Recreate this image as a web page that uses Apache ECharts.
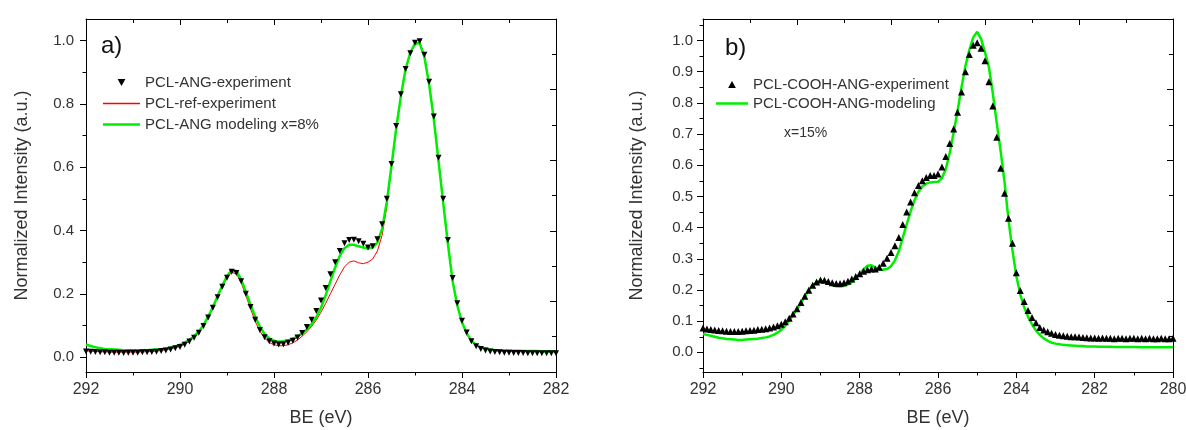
<!DOCTYPE html>
<html>
<head>
<meta charset="utf-8">
<script src="https://cdn.jsdelivr.net/npm/echarts@6/dist/echarts.min.js"></script>
<style>
html,body{margin:0;padding:0;background:#fff;}
#chart{width:1186px;height:430px;}
</style>
</head>
<body>
<div id="chart"></div>
<script>
// ---------- Panel a) ----------
const beA = [
 292.0,291.9,291.8,291.7,291.6,291.5,291.4,291.3,291.2,291.1,
 291.0,290.9,290.8,290.7,290.6,290.5,290.4,290.3,290.2,290.1,
 290.0,289.9,289.8,289.7,289.6,289.5,289.4,289.3,289.2,289.1,
 289.0,288.9,288.8,288.7,288.6,288.5,288.4,288.3,288.2,288.1,
 288.0,287.9,287.8,287.7,287.6,287.5,287.4,287.3,287.2,287.1,
 287.0,286.9,286.8,286.7,286.6,286.5,286.4,286.3,286.2,286.1,
 286.0,285.9,285.8,285.7,285.6,285.5,285.4,285.3,285.2,285.1,
 285.0,284.9,284.8,284.7,284.6,284.5,284.4,284.3,284.2,284.1,
 284.0,283.9,283.8,283.7,283.6,283.5,283.4,283.3,283.2,283.1,
 283.0,282.9,282.8,282.7,282.6,282.5,282.4,282.3,282.2,282.1,
 282.0];
const expA = [
 0.018,0.017,0.016,0.015,0.015,0.014,0.014,0.014,0.013,0.014,
 0.014,0.014,0.015,0.015,0.016,0.017,0.019,0.021,0.024,0.028,
 0.032,0.039,0.049,0.061,0.077,0.098,0.125,0.156,0.189,0.222,
 0.251,0.270,0.266,0.240,0.200,0.158,0.118,0.086,0.063,0.050,
 0.043,0.040,0.041,0.045,0.052,0.062,0.076,0.095,0.118,0.146,
 0.179,0.218,0.262,0.300,0.335,0.360,0.370,0.371,0.366,0.358,
 0.346,0.350,0.372,0.420,0.500,0.610,0.730,0.830,0.910,0.960,
 0.993,0.998,0.955,0.870,0.760,0.630,0.500,0.370,0.250,0.170,
 0.115,0.078,0.050,0.034,0.026,0.021,0.018,0.016,0.015,0.014,
 0.014,0.013,0.013,0.013,0.012,0.012,0.012,0.012,0.012,0.012,
 0.012];
const refA = [
 0.020,0.019,0.018,0.017,0.017,0.016,0.016,0.016,0.016,0.016,
 0.016,0.016,0.017,0.017,0.018,0.019,0.021,0.023,0.026,0.030,
 0.034,0.041,0.050,0.062,0.078,0.099,0.126,0.157,0.190,0.222,
 0.250,0.268,0.263,0.236,0.195,0.153,0.113,0.082,0.060,0.046,
 0.039,0.036,0.036,0.039,0.045,0.054,0.066,0.080,0.097,0.117,
 0.142,0.170,0.200,0.230,0.260,0.285,0.300,0.304,0.298,0.295,
 0.300,0.310,0.335,0.385,0.475,0.600,0.720,0.825,0.910,0.962,
 0.990,0.995,0.952,0.865,0.755,0.622,0.490,0.360,0.242,0.165,
 0.112,0.076,0.052,0.038,0.030,0.026,0.023,0.021,0.020,0.020,
 0.019,0.019,0.019,0.019,0.019,0.018,0.018,0.018,0.018,0.018,
 0.018];
const modA = [
 0.040,0.035,0.031,0.028,0.026,0.025,0.024,0.023,0.022,0.022,
 0.022,0.022,0.022,0.022,0.023,0.024,0.025,0.027,0.030,0.034,
 0.039,0.046,0.055,0.066,0.081,0.101,0.128,0.158,0.192,0.226,
 0.256,0.275,0.272,0.246,0.206,0.166,0.128,0.096,0.073,0.059,
 0.052,0.049,0.050,0.053,0.058,0.065,0.075,0.088,0.104,0.126,
 0.156,0.196,0.240,0.283,0.320,0.344,0.355,0.355,0.350,0.346,
 0.343,0.346,0.362,0.405,0.490,0.605,0.722,0.825,0.910,0.962,
 0.990,0.992,0.948,0.862,0.752,0.620,0.488,0.358,0.240,0.163,
 0.110,0.075,0.052,0.038,0.031,0.027,0.024,0.022,0.021,0.020,
 0.020,0.020,0.020,0.019,0.019,0.019,0.019,0.018,0.018,0.018,
 0.018];

// ---------- Panel b) ----------
const beB = [
 292.0,291.9,291.8,291.7,291.6,291.5,291.4,291.3,291.2,291.1,
 291.0,290.9,290.8,290.7,290.6,290.5,290.4,290.3,290.2,290.1,
 290.0,289.9,289.8,289.7,289.6,289.5,289.4,289.3,289.2,289.1,
 289.0,288.9,288.8,288.7,288.6,288.5,288.4,288.3,288.2,288.1,
 288.0,287.9,287.8,287.7,287.6,287.5,287.4,287.3,287.2,287.1,
 287.0,286.9,286.8,286.7,286.6,286.5,286.4,286.3,286.2,286.1,
 286.0,285.9,285.8,285.7,285.6,285.5,285.4,285.3,285.2,285.1,
 285.0,284.9,284.8,284.7,284.6,284.5,284.4,284.3,284.2,284.1,
 284.0,283.9,283.8,283.7,283.6,283.5,283.4,283.3,283.2,283.1,
 283.0,282.9,282.8,282.7,282.6,282.5,282.4,282.3,282.2,282.1,
 282.0,281.9,281.8,281.7,281.6,281.5,281.4,281.3,281.2,281.1,
 281.0,280.9,280.8,280.7,280.6,280.5,280.4,280.3,280.2,280.1,
 280.0];
const expB = [
 0.078,0.075,0.073,0.072,0.070,0.069,0.068,0.067,0.067,0.067,
 0.068,0.069,0.070,0.071,0.073,0.074,0.076,0.078,0.081,0.085,
 0.090,0.098,0.109,0.123,0.140,0.160,0.180,0.199,0.215,0.226,
 0.232,0.231,0.227,0.223,0.221,0.221,0.223,0.228,0.235,0.243,
 0.252,0.260,0.265,0.267,0.267,0.273,0.286,0.302,0.320,0.342,
 0.368,0.410,0.450,0.482,0.512,0.535,0.550,0.561,0.567,0.567,
 0.572,0.594,0.628,0.670,0.716,0.770,0.835,0.900,0.955,0.985,
 0.993,0.975,0.935,0.868,0.790,0.690,0.590,0.510,0.430,0.350,
 0.255,0.198,0.163,0.134,0.112,0.095,0.080,0.072,0.066,0.061,
 0.057,0.055,0.053,0.052,0.050,0.050,0.049,0.048,0.047,0.046,
 0.046,0.045,0.046,0.045,0.045,0.044,0.045,0.045,0.044,0.045,
 0.045,0.044,0.045,0.044,0.045,0.044,0.044,0.045,0.044,0.044,
 0.045];
const modB = [
 0.059,0.056,0.053,0.050,0.047,0.045,0.043,0.042,0.041,0.040,
 0.040,0.041,0.042,0.043,0.044,0.046,0.048,0.051,0.056,0.063,
 0.072,0.085,0.102,0.120,0.138,0.158,0.180,0.200,0.216,0.225,
 0.229,0.227,0.222,0.216,0.212,0.211,0.213,0.218,0.225,0.237,
 0.251,0.266,0.278,0.279,0.272,0.266,0.265,0.267,0.276,0.295,
 0.324,0.368,0.410,0.452,0.488,0.515,0.532,0.541,0.545,0.546,
 0.547,0.559,0.588,0.640,0.705,0.775,0.850,0.918,0.970,1.010,
 1.028,1.005,0.962,0.915,0.830,0.735,0.645,0.545,0.425,0.328,
 0.245,0.186,0.145,0.114,0.090,0.070,0.056,0.045,0.037,0.031,
 0.028,0.026,0.024,0.023,0.022,0.021,0.020,0.020,0.019,0.019,
 0.019,0.018,0.018,0.018,0.018,0.017,0.017,0.017,0.017,0.017,
 0.017,0.017,0.016,0.016,0.016,0.016,0.016,0.016,0.016,0.016,
 0.016];

// tick label values
const yLabelsA = [0.0, 0.2, 0.4, 0.6, 0.8, 1.0];
const yMinorA = [0.1, 0.3, 0.5, 0.7, 0.9];
const yLabelsB = [0.0, 0.1, 0.2, 0.3, 0.4, 0.5, 0.6, 0.7, 0.8, 0.9, 1.0];
const yMinorB = [-0.05, 0.05, 0.15, 0.25, 0.35, 0.45, 0.55, 0.65, 0.75, 0.85, 0.95, 1.05];

const namesA = ['PCL-ANG-experiment', 'PCL-ref-experiment', 'PCL-ANG modeling x=8%'];
const namesB = ['PCL-COOH-ANG-experiment', 'PCL-COOH-ANG-modeling'];

function pairs(xs, ys) { return xs.map((x, i) => [x, ys[i]]); }

const FONT = 'Liberation Sans, Arial, sans-serif';
const TXT = '#333';
const GREEN = '#00ee00';
const RED = '#ff0000';
const DOWN_TRI = 'path://M0,0L10,0L5,9Z';
const UP_TRI = 'path://M5,0L10,9L0,9Z';
const THIN_BAR = 'path://M0,0L37,0L37,1.3L0,1.3Z';
const THICK_BAR = 'path://M0,0L37,0L37,2.5L0,2.5Z';
const THICK_BAR_B = 'path://M0,0L32,0L32,2.5L0,2.5Z';

const gA = {left: 86, top: 19, width: 470, height: 353, outerBoundsMode: 'none'};
const gB = {left: 703, top: 19, width: 470, height: 353, outerBoundsMode: 'none'};

function dataX(gi, min, max) {
  return {
    gridIndex: gi, type: 'value', position: 'bottom', min: min, max: max, inverse: true, interval: 2,
    axisLine: {show: true, onZero: false, lineStyle: {color: '#000', width: 1}},
    axisTick: {show: true, inside: false, length: 6, lineStyle: {color: '#000'}},
    minorTick: {show: true, splitNumber: 2, length: 3.5, lineStyle: {color: '#000'}},
    splitLine: {show: false}, minorSplitLine: {show: false},
    axisLabel: {show: true, margin: 10, fontSize: 16, color: TXT, fontFamily: FONT, formatter: v => String(Math.round(v))},
    name: 'BE (eV)', nameLocation: 'middle', nameGap: 37,
    nameTextStyle: {fontSize: 18, color: TXT, fontFamily: FONT}
  };
}
function frameX(gi) {
  return {
    gridIndex: gi, type: 'value', position: 'top', min: 0, max: 10, interval: 2,
    axisLine: {show: true, onZero: false, lineStyle: {color: '#000', width: 1}},
    axisTick: {show: true, inside: true, length: 6, lineStyle: {color: '#000'}},
    minorTick: {show: true, splitNumber: 2, length: 4, lineStyle: {color: '#000'}},
    splitLine: {show: false}, axisLabel: {show: false}
  };
}
function hiddenX(gi) {
  return {gridIndex: gi, type: 'value', min: 0, max: 1, show: false};
}
function dataY(gi, min, max, labels, nameGap, margin) {
  return {
    gridIndex: gi, type: 'value', position: 'left', min: min, max: max,
    axisLine: {show: true, onZero: false, lineStyle: {color: '#000', width: 1}},
    axisTick: {show: true, inside: false, length: 6, customValues: labels, lineStyle: {color: '#000'}},
    splitLine: {show: false},
    axisLabel: {show: true, customValues: labels, margin: margin, fontSize: 15, color: TXT, fontFamily: FONT,
                formatter: v => v.toFixed(1)},
    name: 'Normalized Intensity (a.u.)', nameLocation: 'middle', nameGap: nameGap,
    nameTextStyle: {fontSize: 18, color: TXT, fontFamily: FONT}
  };
}
function minorY(gi, min, max, vals) {
  return {
    gridIndex: gi, type: 'value', position: 'left', min: min, max: max,
    axisLine: {show: false},
    axisTick: {show: true, inside: false, length: 3.5, customValues: vals, lineStyle: {color: '#000'}},
    splitLine: {show: false}, axisLabel: {show: false}
  };
}
function frameY(gi) {
  return {
    gridIndex: gi, type: 'value', position: 'right', min: 0, max: 10, interval: 2,
    axisLine: {show: true, onZero: false, lineStyle: {color: '#000', width: 1}},
    axisTick: {show: true, inside: true, length: 6, lineStyle: {color: '#000'}},
    minorTick: {show: true, splitNumber: 2, length: 4, lineStyle: {color: '#000'}},
    splitLine: {show: false}, axisLabel: {show: false}
  };
}

const chart = echarts.init(document.getElementById('chart'), null, {renderer: 'canvas'});
chart.setOption({
  animation: false,
  backgroundColor: '#fff',
  grid: [gA, gA, gA, gB, gB, gB],
  xAxis: [dataX(0, 282, 292), frameX(1), hiddenX(2), dataX(3, 280, 292), frameX(4), hiddenX(5)],
  yAxis: [
    dataY(0, -0.047, 1.068, yLabelsA, 55, 12), minorY(1, -0.047, 1.068, yMinorA), frameY(2),
    dataY(3, -0.063, 1.069, yLabelsB, 57, 10), minorY(4, -0.063, 1.069, yMinorB), frameY(5)
  ],
  legend: [
    {
      data: [
        {name: namesA[0]},
        {name: namesA[1], icon: THIN_BAR, itemStyle: {color: RED, borderWidth: 0, borderColor: RED}},
        {name: namesA[2], icon: THICK_BAR, itemStyle: {color: GREEN, borderWidth: 0, borderColor: GREEN}}
      ],
      orient: 'vertical', left: 103, top: 75,
      itemWidth: 37, itemHeight: 7, itemGap: 6, padding: 0, selectedMode: false,
      textStyle: {fontSize: 15, color: TXT, fontFamily: FONT, lineHeight: 15}
    },
    {
      data: [
        {name: namesB[0]},
        {name: namesB[1], icon: THICK_BAR_B, itemStyle: {color: GREEN, borderWidth: 0, borderColor: GREEN}}
      ],
      orient: 'vertical', left: 716, top: 77,
      itemWidth: 32, itemHeight: 7, itemGap: 4, padding: 0, selectedMode: false,
      textStyle: {fontSize: 15, color: TXT, fontFamily: FONT, lineHeight: 15}
    }
  ],
  graphic: [
    {type: 'text', left: 101, top: 34, style: {text: 'a)', fontSize: 24, fill: '#111', fontFamily: FONT}},
    {type: 'text', left: 725, top: 36, style: {text: 'b)', fontSize: 24, fill: '#111', fontFamily: FONT}},
    {type: 'text', left: 784, top: 126, style: {text: 'x=15%', fontSize: 14, fill: TXT, fontFamily: FONT}}
  ],
  series: [
    {name: namesA[1], type: 'line', xAxisIndex: 0, yAxisIndex: 0, data: pairs(beA, refA),
     symbol: 'none', lineStyle: {color: RED, width: 1}, itemStyle: {color: RED}, z: 2},
    {name: namesA[2], type: 'line', xAxisIndex: 0, yAxisIndex: 0, data: pairs(beA, modA),
     symbol: 'none', lineStyle: {color: GREEN, width: 2.5}, itemStyle: {color: GREEN}, z: 3},
    {name: namesA[0], type: 'scatter', xAxisIndex: 0, yAxisIndex: 0, data: pairs(beA, expA),
     symbol: DOWN_TRI, symbolSize: 6, itemStyle: {color: '#000', opacity: 1}, z: 4},
    {name: namesB[1], type: 'line', xAxisIndex: 3, yAxisIndex: 3, data: pairs(beB, modB),
     symbol: 'none', lineStyle: {color: GREEN, width: 2.5}, itemStyle: {color: GREEN}, z: 3},
    {name: namesB[0], type: 'scatter', xAxisIndex: 3, yAxisIndex: 3, data: pairs(beB, expB),
     symbol: UP_TRI, symbolSize: 7, itemStyle: {color: '#000', opacity: 1}, z: 4}
  ]
});
</script>
</body>
</html>
